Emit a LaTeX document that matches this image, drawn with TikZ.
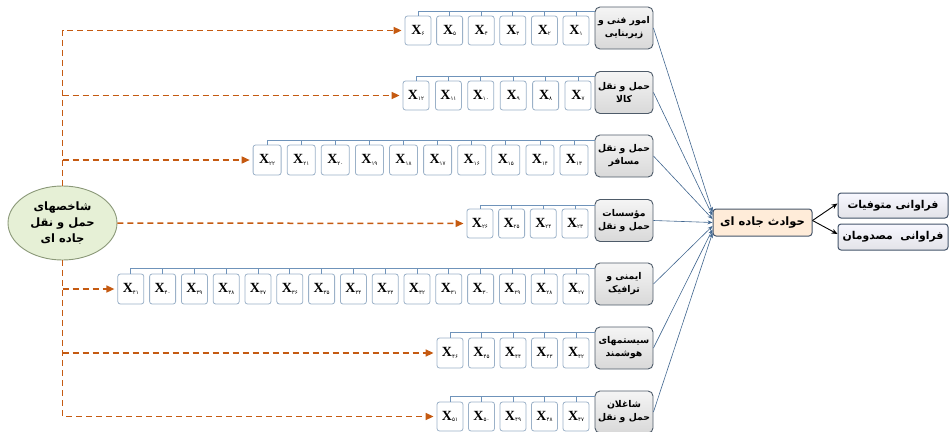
\documentclass[tikz,border=0pt]{standalone}
\usepackage{fontspec}
\usetikzlibrary{arrows.meta,calc,shapes.geometric}
\TeXXeTstate=1
\newfontfamily\arfont[Script=Arabic]{DejaVu Sans}
\newfontfamily\xfont{Liberation Serif}

% Persian digits for the indicator subscripts
\newcommand\pdigit[1]{\ifcase#1 ۰\or ۱\or ۲\or ۳\or ۴\or ۵\or ۶\or ۷\or ۸\or ۹\fi}
\newcommand\pnum[1]{\ifnum#1<10 \pdigit{#1}\else\pdigit{\the\numexpr(#1-5)/10\relax}\pdigit{\the\numexpr#1-10*((#1-5)/10)\relax}\fi}
\newcommand\xlabel[1]{{\xfont\bfseries\fontsize{14}{14}\selectfont X}\raisebox{-1.5pt}{\arfont\fontsize{5.5}{5.5}\selectfont\pnum{#1}}}
\newcommand\rtl[1]{\beginR #1\endR}

\definecolor{dashorange}{HTML}{C55A11}
\definecolor{feedblue}{HTML}{41668F}
\definecolor{brk}{HTML}{6F93BA}
\definecolor{xborder}{HTML}{9BB1C8}
\definecolor{catborder}{HTML}{4E5B69}
\definecolor{darkslate}{HTML}{44546A}
\definecolor{srcfill}{HTML}{E6F0D6}
\definecolor{srcborder}{HTML}{8A9878}

\tikzset{
  xbox/.style={draw=xborder, line width=0.8pt, rounded corners=2.5pt, fill=white, inner sep=0pt},
  catbox/.style={draw=catborder, line width=0.9pt, rounded corners=5pt, top color=gray!8, bottom color=gray!30,
    minimum width=58pt, minimum height=42pt, inner sep=1pt, align=center,
    font=\arfont\bfseries\fontsize{9.3}{13}\selectfont},
  brkline/.style={draw=brk, line width=0.8pt},
  dashline/.style={draw=dashorange, line width=1.5pt, dash pattern=on 6pt off 4pt},
  dasharrow/.style={dashline, -{Triangle[length=8pt,width=7pt]}, shorten >=3pt},
  feed/.style={draw=feedblue, line width=0.6pt, -{Stealth[length=5pt,width=4pt]}},
  outarrow/.style={draw=black, line width=0.9pt, -{Stealth[length=6pt,width=5pt]}},
}

% one row of indicator boxes: first index, count, left x of first box, spacing,
% box width, box top, box bottom, bracket height, parent node
\newcommand\xrow[9]{%
  \foreach \k in {0,...,\numexpr#2-1\relax}{%
    \pgfmathtruncatemacro\idx{#1+\k}%
    \node[xbox, minimum width=#5pt, minimum height={(#7-#6)*1pt}] (x\idx)
      at ({#3+#5/2-\k*#4},{(#6+#7)/2}) {\xlabel{\idx}};
    \draw[brkline] (x\idx.north) -- (x\idx.north |- 0,#8);
  }
  \pgfmathtruncatemacro\lastidx{#1+#2-1}%
  \draw[brkline] (x\lastidx.north |- 0,#8) -- (#9.west |- 0,#8);
}

\begin{document}
\begin{tikzpicture}[x=1pt,y=-1pt]
\useasboundingbox (0,0) rectangle (952,431);

% category boxes
\node[catbox] (c1) at (624,28)    {\rtl{امور فنی و}\\\rtl{زیربنایی}};
\node[catbox] (c2) at (624,92.5)  {\rtl{حمل و نقل}\\\rtl{کالا}};
\node[catbox] (c3) at (624,156)   {\rtl{حمل و نقل}\\\rtl{مسافر}};
\node[catbox] (c4) at (624,220.5) {\rtl{مؤسسات}\\\rtl{حمل و نقل}};
\node[catbox] (c5) at (624,284)   {\rtl{ایمنی و}\\\rtl{ترافیک}};
\node[catbox] (c6) at (624,348)   {\rtl{سیستمهای}\\\rtl{هوشمند}};
\node[catbox] (c7) at (624,412)   {\rtl{شاغلان}\\\rtl{حمل و نقل}};

% indicator rows
\xrow{1}{6}{563}{31.6}{26}{16}{45}{11}{c1}
\xrow{7}{6}{565}{32.4}{26}{81}{110}{76}{c2}
\xrow{13}{10}{560}{34.1}{28}{145}{175}{140}{c3}
\xrow{23}{4}{562}{31.7}{26}{209}{238}{205}{c4}
\xrow{27}{15}{563}{31.8}{26}{274}{304}{268}{c5}
\xrow{42}{5}{563}{31.5}{26}{338}{368}{332}{c6}
\xrow{47}{5}{563}{31.5}{26}{402}{431}{396}{c7}

% source ellipse
\node[ellipse, draw=srcborder, line width=0.9pt, fill=srcfill,
      minimum width=109pt, minimum height=74pt, inner sep=0pt, align=center,
      font=\arfont\bfseries\fontsize{11.5}{16}\selectfont] (src) at (62.5,223)
  {\rtl{شاخصهای}\\\rtl{حمل و نقل}\\\rtl{جاده ای}};

% dashed distribution lines
\draw[dasharrow] (src.north) -- (src.north |- x6.west) -- (x6.west);
\draw[dasharrow] (src.north |- x12.west) -- (x12.west);
\draw[dasharrow] (src.north |- x22.west) -- (x22.west);
\draw[dasharrow] (src.east) -- (x26.west);
\draw[dasharrow] (src.south) -- (src.south |- x51.west) -- (x51.west);
\draw[dasharrow] (src.south |- x41.west) -- (x41.west);
\draw[dasharrow] (src.south |- x46.west) -- (x46.west);

% road accidents and its outcomes
\node[draw=darkslate, line width=1pt, rounded corners=3pt, fill=orange!15!white,
      minimum width=99pt, minimum height=27pt, inner sep=0pt,
      font=\arfont\bfseries\fontsize{11.5}{13}\selectfont] (acc) at (762.5,222.5)
  {\rtl{حوادث جاده ای}};
\node[draw=darkslate, line width=1pt, rounded corners=3pt, top color=blue!3!white, bottom color=blue!10!gray!20,
      minimum width=110pt, minimum height=25pt, inner sep=0pt,
      font=\arfont\bfseries\fontsize{10.8}{12}\selectfont] (o1) at (893,205.5)
  {\rtl{فراوانی متوفیات}};
\node[draw=darkslate, line width=1pt, rounded corners=3pt, top color=blue!3!white, bottom color=blue!10!gray!20,
      minimum width=110pt, minimum height=26pt, inner sep=0pt,
      font=\arfont\bfseries\fontsize{10.8}{12}\selectfont] (o2) at (893,237)
  {\rtl{فراوانی \ مصدومان}};

\draw[feed] (c1.east) -- ($(acc.west)+(0,-10.5)$);
\draw[feed] (c2.east) -- ($(acc.west)+(0,-7)$);
\draw[feed] (c3.east) -- ($(acc.west)+(0,-3.5)$);
\draw[feed] (c4.east) -- (acc.west);
\draw[feed] (c5.east) -- ($(acc.west)+(0,3.5)$);
\draw[feed] (c6.east) -- ($(acc.west)+(0,7)$);
\draw[feed] (c7.east) -- ($(acc.west)+(0,10.5)$);

\draw[outarrow] ($(acc.east)+(0,-2)$) -- ($(o1.west)+(0,-2)$);
\draw[outarrow] ($(acc.east)+(0,-2)$) -- ($(o2.west)+(0,-3)$);
\end{tikzpicture}
\end{document}
